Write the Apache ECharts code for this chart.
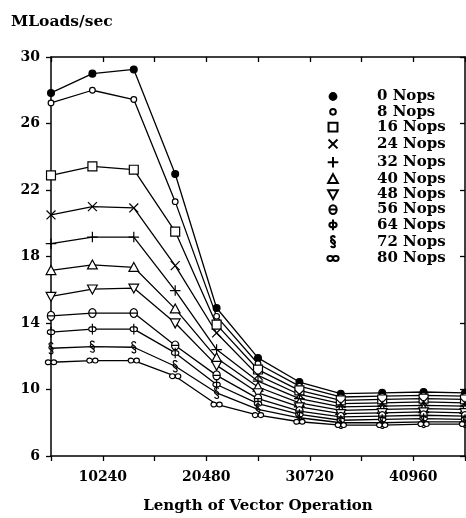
<!DOCTYPE html>
<html><head><meta charset="utf-8">
<script src="https://cdn.jsdelivr.net/npm/echarts@6/dist/echarts.min.js"></script>
<style>html,body{margin:0;padding:0;background:#fff}#c{width:466px;height:518px}</style>
</head><body><div id="c"></div>
<script>
// ---- data ----
const vectorLengths = [5120, 9216, 13312, 17408, 21504, 25600, 29696, 33792, 37888, 41984, 46080];
const xTickValues = [10240, 20480, 30720, 40960];
const yTickValues = [6, 10, 14, 18, 22, 26, 30];
const seriesNames = ['0 Nops', '8 Nops', '16 Nops', '24 Nops', '32 Nops', '40 Nops', '48 Nops', '56 Nops', '64 Nops', '72 Nops', '80 Nops'];
const nops0  = [27.84, 29.0, 29.25, 22.96, 14.9, 11.9, 10.45, 9.75, 9.8, 9.85, 9.8];
const nops8  = [27.24, 28.0, 27.44, 21.3, 14.4, 11.55, 10.2, 9.55, 9.6, 9.65, 9.6];
const nops16 = [22.88, 23.42, 23.22, 19.5, 13.9, 11.2, 9.95, 9.35, 9.4, 9.45, 9.4];
const nops24 = [20.5, 21.0, 20.92, 17.45, 13.4, 10.85, 9.7, 9.15, 9.2, 9.25, 9.2];
const nops32 = [18.77, 19.17, 19.17, 15.95, 12.4, 10.5, 9.45, 8.95, 9.0, 9.05, 9.0];
const nops40 = [17.16, 17.5, 17.35, 14.85, 11.9, 10.15, 9.2, 8.75, 8.8, 8.85, 8.8];
const nops48 = [15.6, 16.04, 16.1, 14.0, 11.45, 9.8, 8.95, 8.55, 8.6, 8.65, 8.6];
const nops56 = [14.43, 14.6, 14.6, 12.65, 10.85, 9.45, 8.7, 8.35, 8.4, 8.45, 8.4];
const nops64 = [13.45, 13.63, 13.63, 12.2, 10.3, 9.15, 8.5, 8.15, 8.2, 8.25, 8.2];
const nops72 = [12.48, 12.58, 12.54, 11.4, 9.8, 8.8, 8.3, 8.0, 8.0, 8.05, 8.05];
const nops80 = [11.64, 11.74, 11.74, 10.8, 9.1, 8.46, 8.06, 7.86, 7.86, 7.92, 7.92];
const seriesValues = [nops0, nops8, nops16, nops24, nops32, nops40, nops48, nops56, nops64, nops72, nops80];

// ---- marker shapes (16x16 box) ----
function circ(cx, cy, rx, ry) {
  const kx = 0.5523 * rx, ky = 0.5523 * ry;
  return `M${cx},${cy - ry} C${cx + kx},${cy - ry} ${cx + rx},${cy - ky} ${cx + rx},${cy} ` +
         `C${cx + rx},${cy + ky} ${cx + kx},${cy + ry} ${cx},${cy + ry} ` +
         `C${cx - kx},${cy + ry} ${cx - rx},${cy + ky} ${cx - rx},${cy} ` +
         `C${cx - rx},${cy - ky} ${cx - kx},${cy - ry} ${cx},${cy - ry} Z `;
}
const box = 'M0,0 L0,0 M16,16 L16,16 ';
const markers = [
  { p: circ(8, 8, 4.2, 4.2), fill: '#000' },
  { p: circ(8, 8, 3.5, 3.5), fill: '#fff' },
  { p: 'M2.5,2.5 L13.5,2.5 L13.5,13.5 L2.5,13.5 Z ', fill: '#fff' },
  { p: 'M2.5,2.5 L13.5,13.5 M13.5,2.5 L2.5,13.5 ', fill: 'none' },
  { p: 'M8,1.5 L8,14.5 M1.5,8 L14.5,8 ', fill: 'none' },
  { p: 'M8,2 L14,13 L2,13 Z ', fill: '#fff' },
  { p: 'M2,3 L14,3 L8,14 Z ', fill: '#fff' },
  { p: circ(8, 8, 4.5, 5.5) + 'M3.5,8 L12.5,8 ', fill: '#fff' },
  { p: circ(8, 8, 4.5, 3) + 'M8,1.5 L8,14.5 ', fill: '#fff' },
  { p: 'M10.5,3 C10,1.5 8.5,1 7.2,1.2 C5.5,1.5 5,3.2 6.3,4.5 L9.5,7 C11,8.2 10.8,10 9.3,10.8 ' +
       'M6.7,5.2 C5.2,6 5,7.8 6.5,9 L9.7,11.5 C11,12.8 10.5,14.6 8.8,14.9 C7.5,15.1 6,14.6 5.5,13.2 ', fill: 'none' },
  { p: circ(4.5, 8, 3.4, 3) + circ(11.5, 8, 3.4, 3), fill: '#fff' }
];

const FONT = 'DejaVu Serif';
const series = [];
seriesNames.forEach((name, i) => {
  series.push({
    name, type: 'scatter', z: 4,
    symbol: 'path://' + box + markers[i].p, symbolSize: 13,
    itemStyle: { color: markers[i].fill, borderColor: '#000', borderWidth: 1.2, opacity: 1 },
    data: vectorLengths.map((x, j) => [x, seriesValues[i][j]]),
    silent: true
  });
});
seriesNames.forEach((name, i) => {
  series.push({
    name, type: 'line', z: 3, symbol: 'none',
    lineStyle: { color: '#000', width: 1.3 },
    itemStyle: { color: '#000' },
    data: vectorLengths.map((x, j) => [x, seriesValues[i][j]]),
    silent: true
  });
});

const axisLine = { show: true, lineStyle: { color: '#000', width: 1.5 } };
const chart = echarts.init(document.getElementById('c'), null, { renderer: 'canvas' });
chart.setOption({
  animation: false,
  backgroundColor: '#fff',
  title: {
    text: 'MLoads/sec', left: 6, top: 9,
    textStyle: { fontFamily: FONT, fontWeight: 'bold', fontSize: 15.5, color: '#000' }
  },
  grid: { left: 51, right: 1, top: 57, bottom: 62, containLabel: false, outerBoundsMode: 'none' },
  legend: {
    orient: 'vertical', left: 319, top: 84,
    itemWidth: 78, itemHeight: 13, itemGap: 0.3,
    data: seriesNames,
    textStyle: { fontFamily: FONT, fontWeight: 'bold', fontSize: 15, color: '#000' },
    selectedMode: false
  },
  xAxis: [{
    type: 'value', min: 5120, max: 46080, interval: 5120, position: 'bottom',
    name: 'Length of Vector Operation', nameLocation: 'middle', nameGap: 43,
    nameTextStyle: { fontFamily: FONT, fontWeight: 'bold', fontSize: 15, color: '#000' },
    axisLine, splitLine: { show: false },
    axisTick: { show: true, inside: false, length: 5, lineStyle: { color: '#000', width: 1.3 } },
    axisLabel: {
      margin: 14, fontFamily: FONT, fontWeight: 'bold', fontSize: 14, color: '#000',
      formatter: v => (xTickValues.includes(v) ? String(v) : '')
    }
  }, {
    type: 'value', min: 5120, max: 46080, interval: 5120, position: 'top',
    axisLine, splitLine: { show: false },
    axisTick: { show: true, inside: true, length: 5, lineStyle: { color: '#000', width: 1.3 } },
    axisLabel: { show: false }
  }],
  yAxis: [{
    type: 'value', min: 6, max: 30, interval: 4, position: 'left',
    axisLine, splitLine: { show: false },
    axisTick: { show: true, inside: false, length: 5, lineStyle: { color: '#000', width: 1.3 } },
    axisLabel: {
      margin: 11, fontFamily: FONT, fontWeight: 'bold', fontSize: 14, color: '#000',
      formatter: v => (yTickValues.includes(v) ? String(v) : '')
    }
  }, {
    type: 'value', min: 6, max: 30, interval: 4, position: 'right',
    axisLine, splitLine: { show: false },
    axisTick: { show: true, inside: true, length: 5, lineStyle: { color: '#000', width: 1.3 } },
    axisLabel: { show: false }
  }],
  series
});
</script></body></html>
